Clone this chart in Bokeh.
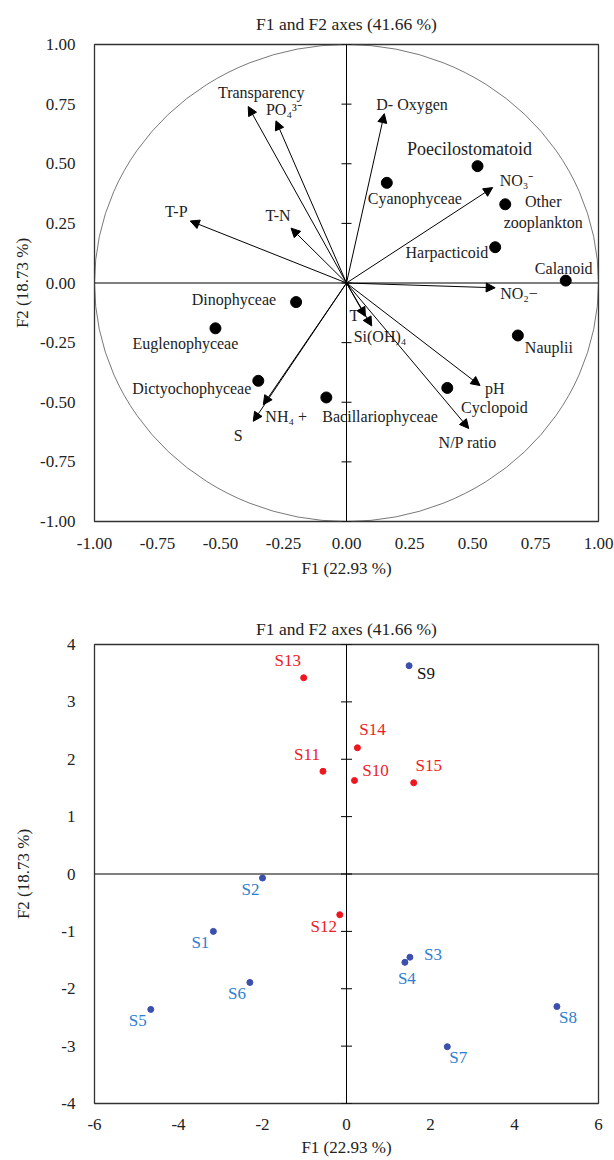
from bokeh.plotting import figure
from bokeh.models import (ColumnDataSource, Span, Arrow, NormalHead, FixedTicker,
                          NumeralTickFormatter, Range1d)
from bokeh.layouts import column
from bokeh.embed import file_html
from bokeh.resources import INLINE
from bokeh.core.properties import value

FONT = "Liberation Serif"

# ---------------- data: correlation circle (top) ----------------
TITLE = "F1 and F2 axes (41.66 %)"
X_LABEL = "F1 (22.93 %)"
Y_LABEL = "F2 (18.73 %)"

TOP_TICKS = [-1.0, -0.75, -0.5, -0.25, 0.0, 0.25, 0.5, 0.75, 1.0]

VAR_NAMES = ["Transparency", "PO\u2084\u00b3\u207b", "T-P", "T-N", "D- Oxygen",
             "NO\u2083\u207b", "NO\u2082\u2212", "T", "Si(OH)\u2084", "pH",
             "N/P ratio", "NH\u2084 +", "S"]
VAR_F1 = [-0.39, -0.28, -0.62, -0.22, 0.15, 0.58, 0.59, 0.075, 0.10, 0.53, 0.485, -0.33, -0.37]
VAR_F2 = [0.74, 0.68, 0.26, 0.23, 0.71, 0.40, -0.02, -0.14, -0.18, -0.43, -0.61, -0.51, -0.58]

GROUP_NAMES = ["Poecilostomatoid", "Cyanophyceae", "Other\nzooplankton", "Harpacticoid",
               "Calanoid", "Nauplii", "Cyclopoid", "Bacillariophyceae", "Dinophyceae",
               "Euglenophyceae", "Dictyochophyceae"]
GROUP_F1 = [0.52, 0.16, 0.63, 0.59, 0.87, 0.68, 0.40, -0.08, -0.20, -0.52, -0.35]
GROUP_F2 = [0.49, 0.42, 0.33, 0.15, 0.01, -0.22, -0.44, -0.48, -0.08, -0.19, -0.41]

# ---------------- data: site scores (bottom) ----------------
BOT_X_TICKS = [-6, -4, -2, 0, 2, 4, 6]
BOT_Y_TICKS = [-4, -3, -2, -1, 0, 1, 2, 3, 4]

SITE_NAMES = ["S1", "S2", "S3", "S4", "S5", "S6", "S7", "S8", "S9",
              "S10", "S11", "S12", "S13", "S14", "S15"]
SITE_F1 = [-3.17, -2.00, 1.51, 1.39, -4.66, -2.30, 2.40, 5.01, 1.49,
           0.19, -0.56, -0.16, -1.02, 0.26, 1.60]
SITE_F2 = [-1.00, -0.07, -1.45, -1.54, -2.36, -1.89, -3.01, -2.31, 3.63,
           1.63, 1.79, -0.71, 3.42, 2.20, 1.59]
SITE_GROUP = ["A"] * 9 + ["B"] * 6

# ---------------- styling (label placement, colours) ----------------
VAR_DX = [13, -10, -14, -13, -8, 7, 5, -11, -18, 5, -1, 2, -15]
VAR_DY = [-14, -11, -9, -13, -9, -7, 6, -1, 11, 3, 14, 12, 14]
VAR_ALIGN = ["center", "left", "center", "center", "left", "left", "left",
             "center", "left", "left", "center", "left", "center"]

GROUP_DX = [-8, 28, 38, -7, -2, 31, 47, -4, -20, -30, -7]
GROUP_DY = [-17, 16, 8, 5, -12, 12, 20, 19, -3, 15, 8]
GROUP_ALIGN = ["center", "center", "center", "right", "center", "center", "center",
               "left", "right", "center", "right"]
GROUP_SIZE = ["18px"] + ["16px"] * 10

SITE_DX = [-13, -12, 23, 2, -13, -13, 11, 11, 17, 21, -16, -16, -16, 15, 15]
SITE_DY = [11, 11, -3, 16, 11, 11, 11, 11, 8, -10, -17, 12, -17, -18, -17]
PT_COLOR = {"A": "#3a4fae", "B": "#f0161e"}
LBL_BLUE = "#2e7fcf"
LBL_RED = "#ee1c25"


def style_axes(p, xticks, yticks, fmt):
    for ax, ticks in ((p.xaxis, xticks), (p.yaxis, yticks)):
        ax.ticker = FixedTicker(ticks=ticks)
        ax.formatter = NumeralTickFormatter(format=fmt)
        ax.axis_line_color = None
        ax.major_tick_line_color = None
        ax.minor_tick_line_color = None
        ax.major_label_text_font = FONT
        ax.major_label_text_font_size = "17px"
        ax.major_label_text_color = "#222222"
        ax.axis_label_text_font = FONT
        ax.axis_label_text_font_size = "17px"
        ax.axis_label_text_font_style = "normal"
        ax.axis_label_text_color = "#222222"
    p.xaxis.axis_label = X_LABEL
    p.yaxis.axis_label = Y_LABEL
    p.grid.visible = False
    p.outline_line_color = "#333333"
    p.outline_line_width = 1.3
    p.title.text_font = FONT
    p.title.text_font_size = "17.5px"
    p.title.text_font_style = "normal"
    p.title.text_color = "#222222"
    p.title.align = "center"
    p.add_layout(Span(location=0, dimension="height", line_color="black", line_width=1))
    p.add_layout(Span(location=0, dimension="width", line_color="black", line_width=1))


def add_labels(p, xs, ys, texts, dx, dy, align, colors, sizes):
    src = ColumnDataSource(dict(x=xs, y=ys, text=texts, dx=dx, dy=dy, align=align,
                                color=colors, size=sizes))
    p.text(x="x", y="y", text="text", x_offset="dx", y_offset="dy", text_align="align",
           text_baseline="middle", text_color="color", text_font_size="size",
           text_font=value(FONT), text_line_height=1.25, source=src)


# ---------------- top figure ----------------
p1 = figure(width=614, height=598, x_range=Range1d(-1, 1), y_range=Range1d(-1, 1),
            output_backend="svg", toolbar_location=None, title=TITLE,
            min_border_left=94, min_border_right=16, min_border_top=44, min_border_bottom=77)
style_axes(p1, TOP_TICKS, TOP_TICKS, "0.00")
p1.title.standoff = 22
p1.xaxis.major_label_standoff = 10
p1.xaxis.axis_label_standoff = 7
p1.yaxis.major_label_standoff = 13
p1.yaxis.axis_label_standoff = 5

p1.ellipse(x=[0], y=[0], width=[2], height=[2], fill_color=None,
           line_color="#555555", line_width=0.8)
p1.scatter(x=[0.0] * len(TOP_TICKS), y=TOP_TICKS, marker="dash", size=10,
           line_color="black", line_width=1)

arrow_src = ColumnDataSource(dict(x0=[0.0] * len(VAR_F1), y0=[0.0] * len(VAR_F2),
                                  x1=VAR_F1, y1=VAR_F2))
p1.add_layout(Arrow(end=NormalHead(size=9, fill_color="black", line_color="black", line_width=1),
                    x_start="x0", y_start="y0", x_end="x1", y_end="y1", source=arrow_src,
                    line_color="black", line_width=1))

p1.scatter(x=GROUP_F1, y=GROUP_F2, size=11, fill_color="black", line_color="black")

add_labels(p1, VAR_F1, VAR_F2, VAR_NAMES, VAR_DX, VAR_DY, VAR_ALIGN,
           ["#222222"] * len(VAR_NAMES), ["16px"] * len(VAR_NAMES))
add_labels(p1, GROUP_F1, GROUP_F2, GROUP_NAMES, GROUP_DX, GROUP_DY, GROUP_ALIGN,
           ["#222222"] * len(GROUP_NAMES), GROUP_SIZE)

# ---------------- bottom figure ----------------
p2 = figure(width=614, height=562, x_range=Range1d(-6, 6), y_range=Range1d(-4, 4),
            output_backend="svg", toolbar_location=None, title=TITLE,
            min_border_left=94, min_border_right=9, min_border_top=46, min_border_bottom=57)
style_axes(p2, BOT_X_TICKS, BOT_Y_TICKS, "0")
p2.title.standoff = 12
p2.xaxis.major_label_standoff = 9
p2.xaxis.axis_label_standoff = 5
p2.yaxis.major_label_standoff = 13
p2.yaxis.axis_label_standoff = 25

p2.scatter(x=[0.0] * len(BOT_Y_TICKS), y=BOT_Y_TICKS, marker="dash", size=11,
           line_color="black", line_width=1)

site_pt_colors = [PT_COLOR[g] for g in SITE_GROUP]
site_lbl_colors = [LBL_BLUE if g == "A" else LBL_RED for g in SITE_GROUP]
site_lbl_colors[SITE_NAMES.index("S9")] = "#111111"
p2.scatter(x=SITE_F1, y=SITE_F2, size=6, fill_color=site_pt_colors, line_color=site_pt_colors)
add_labels(p2, SITE_F1, SITE_F2, SITE_NAMES, SITE_DX, SITE_DY, ["center"] * len(SITE_NAMES),
           site_lbl_colors, ["17px"] * len(SITE_NAMES))

layout = column(p1, p2, spacing=0)
open("out.html", "w").write(file_html(layout, INLINE))
